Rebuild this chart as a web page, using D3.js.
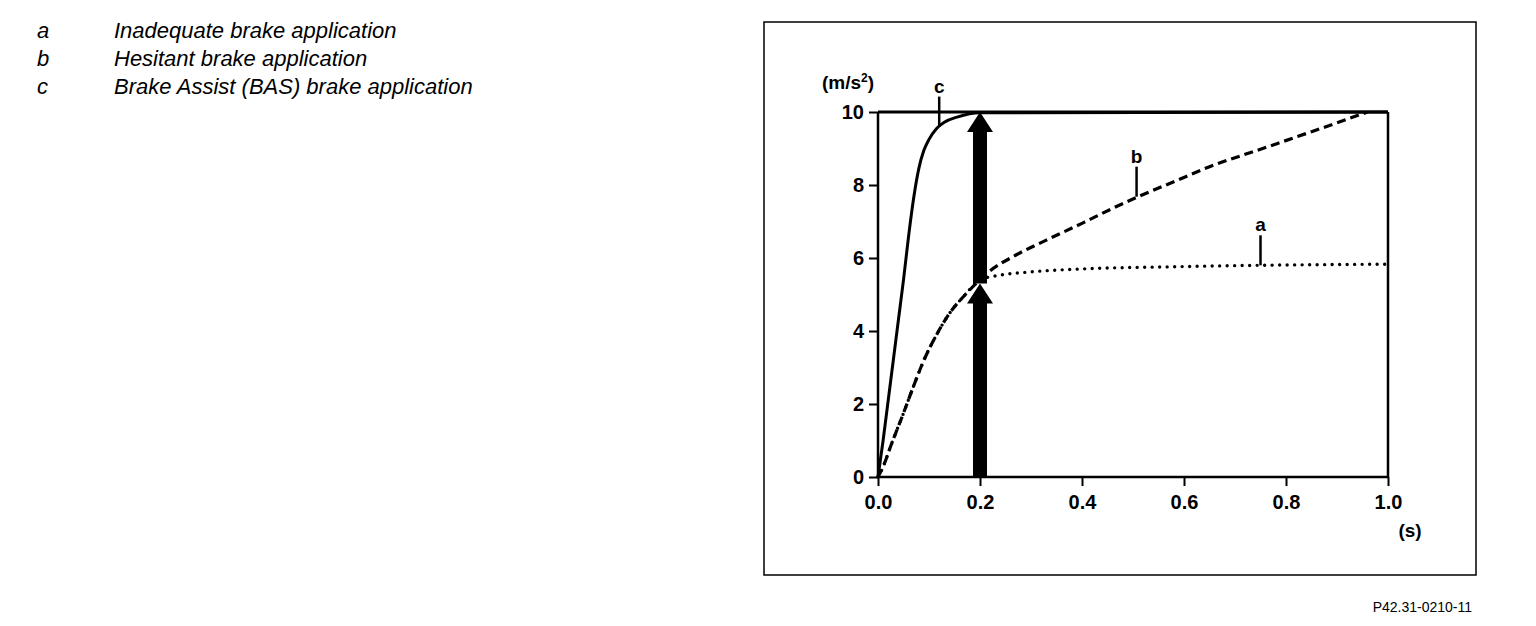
<!DOCTYPE html>
<html><head><meta charset="utf-8">
<script src="https://cdn.jsdelivr.net/npm/d3@7"></script>
<style>
body{margin:0;background:#fff;}
svg{display:block;}
</style></head>
<body>
<svg id="chart" width="1536" height="626"></svg>
<script>
// ---- data ----
const legendKeys = ["a","b","c"];
const legendLabels = ["Inadequate brake application","Hesitant brake application","Brake Assist (BAS) brake application"];
const xTicks = [0,0.2,0.4,0.6,0.8,1.0];
const xTickLabels = ["0.0","0.2","0.4","0.6","0.8","1.0"];
const yTicks = [0,2,4,6,8,10];
const yTickLabels = ["0","2","4","6","8","10"];
// curve c: Brake Assist
const cX = [0,0.01,0.02,0.03,0.04,0.05,0.06,0.07,0.08,0.09,0.10,0.115,0.13,0.155,0.20,1.0];
const cY = [0,1.0,2.1,3.2,4.3,5.4,6.6,7.65,8.45,8.95,9.25,9.55,9.72,9.86,9.98,10];
// curve b: hesitant
const bX = [0,0.01,0.025,0.05,0.07,0.09,0.115,0.14,0.17,0.20,0.22,0.265,0.33,0.40,0.46,0.51,0.58,0.65,0.75,0.85,0.96];
const bY = [0,0.28,0.85,1.75,2.5,3.2,3.9,4.48,4.98,5.4,5.65,6.04,6.49,6.95,7.36,7.68,8.09,8.5,8.98,9.46,10];
// curve a: inadequate
const aX = [0,0.01,0.025,0.05,0.07,0.09,0.115,0.14,0.17,0.20,0.24,0.30,0.40,0.58,0.75,1.0];
const aY = [0,0.28,0.85,1.75,2.5,3.2,3.9,4.48,4.98,5.4,5.53,5.62,5.7,5.76,5.8,5.83];
// arrows at 0.2 s
const arrowX = [0.2,0.2];
const arrowFrom = [0,5.3];
const arrowTo = [5.3,10];
// curve label positions (x in s, y on curve)
const labelNames = ["c","b","a"];
const labelX = [0.12,0.507,0.75];
const labelY = [9.6,7.68,5.8];

// ---- chart ----
const svg = d3.select("#chart");
const x = d3.scaleLinear().domain([0,1]).range([878,1388]);
const y = d3.scaleLinear().domain([0,10]).range([477,112]);
const font = "Liberation Sans, Arial, sans-serif";

// legend
const lg = svg.append("g").attr("font-family",font).attr("font-style","italic").attr("font-size",22).attr("fill","#000");
legendKeys.forEach((k,i)=>{
  lg.append("text").attr("x",37).attr("y",38+i*28).text(k);
  lg.append("text").attr("x",114).attr("y",38+i*28).text(legendLabels[i]);
});

// frame
svg.append("rect").attr("x",764).attr("y",22).attr("width",712).attr("height",553)
  .attr("fill","none").attr("stroke","#000").attr("stroke-width",1.5);

svg.append("text").attr("x",1472).attr("y",612).attr("text-anchor","end")
  .attr("font-family",font).attr("font-size",14).text("P42.31-0210-11");

// axes
const xAxis = d3.axisBottom(x).tickValues(xTicks).tickFormat((d,i)=>xTickLabels[i]).tickSize(9).tickPadding(4);
const gx = svg.append("g").attr("transform",`translate(0,${y(0)})`).call(xAxis);
const yAxis = d3.axisLeft(y).tickValues(yTicks).tickFormat((d,i)=>yTickLabels[i]).tickSize(9).tickPadding(5);
const gy = svg.append("g").attr("transform",`translate(${x(0)},0)`).call(yAxis);
[gx,gy].forEach(g=>{
  g.select(".domain").attr("stroke","#000").attr("stroke-width",2.5);
  g.selectAll(".tick line").attr("stroke","#000").attr("stroke-width",2);
  g.selectAll(".tick text").attr("font-family",font).attr("font-weight","bold").attr("font-size",20).attr("fill","#000");
});
gy.select(".domain").attr("d",`M0,${y(0)}V${y(10)}`);
gx.select(".domain").attr("d",`M${x(0)},0H${x(1)}`);
gx.selectAll(".tick text").attr("dy","0.95em");
// top and right borders
svg.append("line").attr("x1",x(0)).attr("x2",x(1)).attr("y1",y(10)).attr("y2",y(10)).attr("stroke","#000").attr("stroke-width",3);
svg.append("line").attr("x1",x(1)).attr("x2",x(1)).attr("y1",y(10)).attr("y2",y(0)).attr("stroke","#000").attr("stroke-width",2.5);

// unit labels
svg.append("text").attr("x",848).attr("y",89).attr("text-anchor","middle").attr("font-family",font).attr("font-weight","bold").attr("font-size",19)
  .html('(m/s<tspan dy="-7" font-size="12">2</tspan><tspan dy="7">)</tspan>');
svg.append("text").attr("x",1410).attr("y",537).attr("text-anchor","middle").attr("font-family",font).attr("font-weight","bold").attr("font-size",19).text("(s)");

// curves
const line = d3.line().x(d=>x(d[0])).y(d=>y(d[1])).curve(d3.curveMonotoneX);
const zip = (xs,ys)=>xs.map((v,i)=>[v,ys[i]]);
svg.append("path").attr("d",line(zip(aX,aY))).attr("fill","none").attr("stroke","#000").attr("stroke-width",3.4).attr("stroke-dasharray","0 7.5").attr("stroke-linecap","round");
svg.append("path").attr("d",line(zip(bX,bY))).attr("fill","none").attr("stroke","#000").attr("stroke-width",3.2).attr("stroke-dasharray","9 5");
svg.append("path").attr("d",line(zip(cX,cY))).attr("fill","none").attr("stroke","#000").attr("stroke-width",3);

// arrows
arrowX.forEach((ax,i)=>{
  const cx = x(ax), y0 = y(arrowFrom[i]), y1 = y(arrowTo[i]);
  const hw = 7, headW = 13, headH = 20;
  svg.append("path").attr("fill","#000")
    .attr("d",`M${cx-hw},${y0}V${y1+headH}H${cx-headW}L${cx},${y1}L${cx+headW},${y1+headH}H${cx+hw}V${y0}Z`);
});

// curve labels with leader lines
labelNames.forEach((n,i)=>{
  const px = x(labelX[i]), py = y(labelY[i]);
  svg.append("line").attr("x1",px).attr("x2",px).attr("y1",py).attr("y2",py-30).attr("stroke","#000").attr("stroke-width",2.5);
  svg.append("text").attr("x",px).attr("y",py-34).attr("text-anchor","middle").attr("font-family",font).attr("font-weight","bold").attr("font-size",19).text(n);
});
</script>
</body></html>
